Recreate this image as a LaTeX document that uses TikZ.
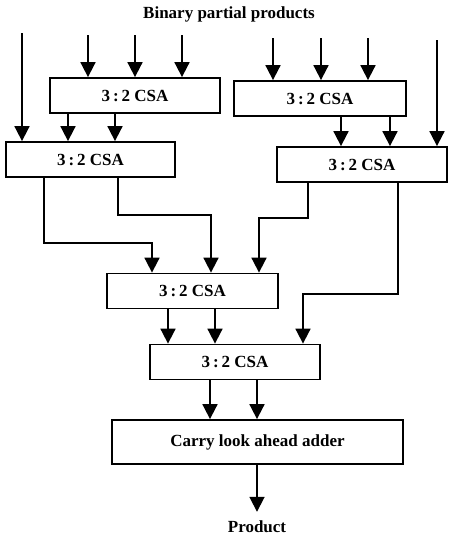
\documentclass[tikz,border=0pt]{standalone}
\usepackage{fontspec}
\setmainfont{Liberation Serif}
\usetikzlibrary{arrows.meta}
\tikzset{
  csa/.style={draw, line width=1.8pt, minimum width=170pt, minimum height=35pt, inner sep=0pt, font=\fontsize{17}{20}\selectfont\bfseries},
  arr/.style={line width=1.8pt, -{Triangle[width=15pt,length=15pt]}},
  lbl/.style={font=\fontsize{17}{20}\selectfont\bfseries, inner sep=0pt}
}
\begin{document}
\begin{tikzpicture}[x=1pt,y=-1pt]
\useasboundingbox (0,0) rectangle (448,538);
% title
\node[lbl] (title) at (229,14) {Binary partial products};
% boxes
\node[csa] (A) at (135,95.5) {3\,:\,2 CSA};
\node[csa, minimum width=172pt] (B) at (320,98.5) {3\,:\,2 CSA};
\node[csa, minimum width=169pt] (C) at (90.5,159.5) {3\,:\,2 CSA};
\node[csa] (D) at (362,164.5) {3\,:\,2 CSA};
\node[csa, minimum width=171pt] (E) at (192.5,291) {3\,:\,2 CSA};
\node[csa] (F) at (235,362) {3\,:\,2 CSA};
\node[csa, minimum width=291pt, minimum height=44pt] (G) at (257.5,442) {Carry look ahead adder};
\node[lbl] (P) at (257,527) {Product};
% input coordinates
\coordinate (i0) at (22,33);
\coordinate (i1) at (88,35);
\coordinate (i2) at (135,35);
\coordinate (i3) at (182,35);
\coordinate (i4) at (273,38);
\coordinate (i5) at (321,38);
\coordinate (i6) at (368,38);
\coordinate (i7) at (437,40);
% inputs
\draw[arr] (i0) -- ([xshift=-68.5pt]C.north);
\draw[arr] (i1) -- ([xshift=-47pt]A.north);
\draw[arr] (i2) -- ([xshift=0pt]A.north);
\draw[arr] (i3) -- ([xshift=47pt]A.north);
\draw[arr] (i4) -- ([xshift=-47pt]B.north);
\draw[arr] (i5) -- ([xshift=1pt]B.north);
\draw[arr] (i6) -- ([xshift=48pt]B.north);
\draw[arr] (i7) -- ([xshift=75pt]D.north);
% A -> C, B -> D
\draw[arr] ([xshift=-67pt]A.south) -- ([xshift=-22.5pt]C.north);
\draw[arr] ([xshift=-20pt]A.south) -- ([xshift=24.5pt]C.north);
\draw[arr] ([xshift=21pt]B.south) -- ([xshift=-21pt]D.north);
\draw[arr] ([xshift=70pt]B.south) -- ([xshift=28pt]D.north);
% C -> E, D -> E, D -> F
\draw[arr] ([xshift=-46.5pt]C.south) -- ++(0,65) -| ([xshift=-40.5pt]E.north);
\draw[arr] ([xshift=27.5pt]C.south) -- ++(0,37) -| ([xshift=18.5pt]E.north);
\draw[arr] ([xshift=-54pt]D.south) -- ++(0,35) -| ([xshift=66.5pt]E.north);
\draw[arr] ([xshift=36pt]D.south) -- ++(0,111) -| ([xshift=68pt]F.north);
% E -> F
\draw[arr] ([xshift=-24.5pt]E.south) -- ([xshift=-67pt]F.north);
\draw[arr] ([xshift=22.5pt]E.south) -- ([xshift=-20pt]F.north);
% F -> G
\draw[arr] ([xshift=-25pt]F.south) -- ([xshift=-47.5pt]G.north);
\draw[arr] ([xshift=22pt]F.south) -- ([xshift=-0.5pt]G.north);
% G -> out
\draw[arr] ([xshift=-0.5pt]G.south) -- ([yshift=9pt]P.north);
\end{tikzpicture}
\end{document}
